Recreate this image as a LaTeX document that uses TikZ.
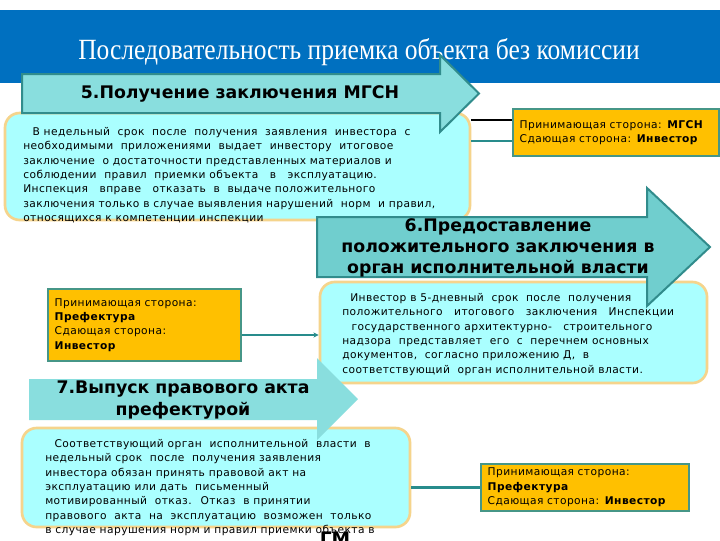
\documentclass[tikz,border=0pt]{standalone}
\usepackage{fontspec}
\setmainfont{DejaVu Sans}
\newfontfamily\titlefont[FakeStretch=0.87]{Liberation Serif}
\usetikzlibrary{arrows.meta,positioning,fit}
\definecolor{titleblue}{RGB}{0,112,192}
\definecolor{arrowfill}{RGB}{137,222,222}
\definecolor{arrowdark}{RGB}{112,206,206}
\definecolor{arrowedge}{RGB}{49,140,140}
\definecolor{boxcyan}{RGB}{170,255,255}
\definecolor{boxtan}{RGB}{245,212,140}
\definecolor{sideyellow}{RGB}{255,192,0}
\definecolor{sideedge}{RGB}{70,150,135}
\definecolor{linkteal}{RGB}{40,140,140}
\tikzset{
  titletext/.style={text=white,inner sep=0pt,font=\titlefont\fontsize{22}{24}\selectfont},
  headarrow/.style={fill=arrowfill,draw=arrowedge,line width=1.5pt,line join=miter},
  headtext/.style={align=center,inner sep=0pt,font=\fontsize{13}{16}\selectfont\bfseries},
  stepbox/.style={rectangle,rounded corners=11pt,fill=boxcyan,draw=boxtan,line width=2pt,inner sep=0pt},
  steptext/.style={align=left,anchor=north west,inner sep=0pt,
    font=\fontsize{8}{10.8}\selectfont\addfontfeature{LetterSpace=4}},
  sidebox/.style={rectangle,anchor=north west,fill=sideyellow,draw=sideedge,line width=1.5pt,
    align=left,inner xsep=5pt,inner ysep=0pt,
    font=\fontsize{8}{10.8}\selectfont\addfontfeature{LetterSpace=4}},
  blacklink/.style={draw=black,line width=0.8pt},
  linkline/.style={draw=linkteal,line width=2pt},
  linkarr/.style={-{Stealth[length=4pt,width=4pt]},draw=linkteal,line width=1.6pt}
}

\begin{document}
\begin{tikzpicture}[x=0.75pt,y=-0.75pt]
  \useasboundingbox (0,0) rectangle (720,540);
  \fill[white] (0,0) rectangle (720,540);

  %% TITLE BAR
  \fill[titleblue] (0,10) rectangle (720,83);
  \node[titletext] (title) at (359,52) {Последовательность приемка объекта без комиссии};

  %% STEP BOXES
  \node[stepbox,fit={(5,113)(470,220)}] (box5) {};
  \node[steptext] (txt5) at (23,127)
    {\hspace*{7pt}В недельный \ срок \ после \ получения \ заявления \ инвестора \ с\\
     необходимыми \ приложениями \ выдает \ инвестору \ итоговое\\
     заключение \ о достаточности представленных материалов и\\
     соблюдении \ правил \ приемки объекта \ \ в \ \ эксплуатацию.\\
     Инспекция \ \ вправе \ \ отказать \ в \ выдаче положительного\\
     заключения только в случае выявления нарушений \ норм \ и правил,\\
     относящихся к компетенции инспекции};

  \node[stepbox,fit={(320,282)(707,383)}] (box6) {};
  \node[steptext] (txt6) at (342,293)
    {\hspace*{6pt}Инвестор в 5-дневный \ срок \ после \ получения\\
     положительного \ \ итогового \ \ заключения \ \ Инспекции\\
     \hspace*{7pt}государственного архитектурно- \ \ строительного\\
     надзора \ представляет \ его \ с \ перечнем основных\\
     документов, \ согласно приложению Д, \ в\\
     соответствующий \ орган исполнительной власти.};

  \node[stepbox,fit={(22,428)(410,527)}] (box7) {};
  \node[steptext] (txt7) at (45,439)
    {\hspace*{7pt}Соответствующий орган \ исполнительной \ власти \ в\\
     недельный срок \ после \ получения заявления\\
     инвестора обязан принять правовой акт на\\
     эксплуатацию или дать \ письменный\\
     мотивированный \ отказ. \ Отказ \ в принятии\\
     правового \ акта \ на \ эксплуатацию \ возможен \ только\\
     в случае нарушения норм и правил приемки объекта в};

  %% STEP ARROWS
  \filldraw[headarrow] (22,74) -- (440,74) -- (440,55) -- (479,93.5)
    -- (440,132) -- (440,113) -- (22,113) -- cycle;
  \node[headtext] (head5) at (240,94) {5.Получение заключения МГСН};

  \filldraw[headarrow,fill=arrowdark] (317,217) -- (647,217) -- (647,188) -- (710,247)
    -- (647,306) -- (647,277) -- (317,277) -- cycle;
  \node[headtext] (head6) at (498,248)
    {6.Предоставление\\положительного заключения в\\орган исполнительной власти};

  \fill[arrowfill] (29,379) -- (317,379) -- (317,358) -- (358,399)
    -- (317,440) -- (317,420) -- (29,420) -- cycle;
  \node[headtext] (head7) at (183,400) {7.Выпуск правового акта\\префектурой};

  \node[font=\fontsize{14}{14}\selectfont\bfseries,anchor=north,inner sep=0pt] (gm) at (335,532) {ГМ};

  %% SIDES
  \node[sidebox,text width=144.5pt,minimum height=35.25pt] (side1) at (512,108)
    {Принимающая сторона: \textbf{МГСН}\\Сдающая сторона: \textbf{Инвестор}};
  \node[sidebox,text width=134.75pt,minimum height=54pt] (side2) at (47,288)
    {Принимающая сторона:\\\textbf{Префектура}\\Сдающая сторона:\\\textbf{Инвестор}};
  \node[sidebox,text width=146pt,minimum height=35.25pt] (side3) at (480,463)
    {Принимающая сторона:\\\textbf{Префектура}\\Сдающая сторона: \textbf{Инвестор}};

  %% LINKS
  \draw[blacklink] (box5.east |- 0,120) -- (side1.west |- 0,120);
  \draw[linkline] (box5.east |- 0,141) -- (side1.west |- 0,141);
  \draw[linkarr] (side2.east |- 0,335) -- (box6.west |- 0,335);
  \draw[linkline] (box7.east |- side3.west) -- (side3.west);
\end{tikzpicture}
\end{document}
